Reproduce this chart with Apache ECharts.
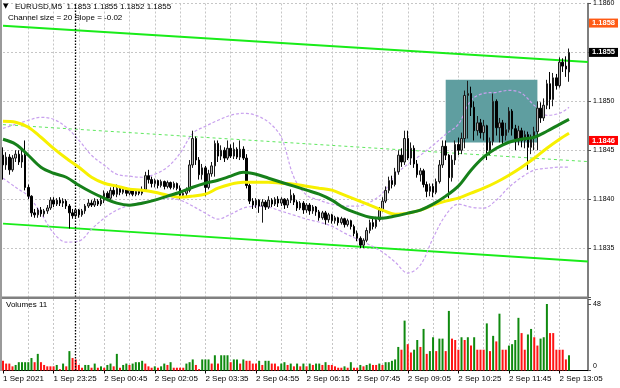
<!DOCTYPE html>
<html>
<head>
<meta charset="utf-8">
<script src="https://cdn.jsdelivr.net/npm/echarts@6/dist/echarts.min.js"></script>
<style>
html,body{margin:0;padding:0;background:#fff;}
#chart{width:620px;height:388px;}
</style>
</head>
<body>
<div id="chart"></div>
<script>
const symbolName = 'EURUSD,M5';
const channelText = 'Channel size = 20 Slope = -0.02';
const timeLabels = ['1 Sep 2021','1 Sep 23:25','2 Sep 00:45','2 Sep 02:05','2 Sep 03:35','2 Sep 04:55','2 Sep 06:15','2 Sep 07:45','2 Sep 09:05','2 Sep 10:25','2 Sep 11:45','2 Sep 13:05'];

const opens = [
1.18445,1.18435,1.18443,1.18430,1.18442,1.18446,1.18438,1.18445,1.18412,1.18403,
1.18386,1.18384,1.18389,1.18385,1.18388,1.18391,1.18399,1.18395,1.18399,1.18396,
1.18398,1.18393,1.18386,1.18383,1.18389,1.18384,1.18388,1.18393,1.18396,1.18394,
1.18398,1.18395,1.18399,1.18406,1.18401,1.18409,1.18405,1.18411,1.18407,1.18410,
1.18406,1.18409,1.18405,1.18408,1.18406,1.18410,1.18424,1.18420,1.18416,1.18419,
1.18414,1.18418,1.18413,1.18417,1.18412,1.18416,1.18411,1.18404,1.18406,1.18409,
1.18435,1.18462,1.18440,1.18425,1.18432,1.18412,1.18426,1.18434,1.18457,1.18444,
1.18450,1.18442,1.18452,1.18444,1.18451,1.18443,1.18451,1.18442,1.18414,1.18398,
1.18394,1.18399,1.18393,1.18397,1.18392,1.18399,1.18395,1.18400,1.18396,1.18400,
1.18394,1.18399,1.18404,1.18397,1.18391,1.18396,1.18389,1.18394,1.18388,1.18392,
1.18387,1.18381,1.18386,1.18379,1.18384,1.18378,1.18381,1.18376,1.18380,1.18374,
1.18378,1.18372,1.18365,1.18360,1.18353,1.18358,1.18368,1.18376,1.18372,1.18379,
1.18389,1.18398,1.18409,1.18419,1.18415,1.18428,1.18445,1.18438,1.18462,1.18442,
1.18452,1.18436,1.18425,1.18429,1.18415,1.18408,1.18413,1.18407,1.18418,1.18435,
1.18454,1.18445,1.18422,1.18440,1.18456,1.18450,1.18462,1.18506,1.18508,1.18494,
1.18470,1.18478,1.18468,1.18475,1.18450,1.18459,1.18500,1.18473,1.18478,1.18465,
1.18471,1.18490,1.18472,1.18462,1.18470,1.18460,1.18466,1.18453,1.18463,1.18469,
1.18493,1.18483,1.18496,1.18518,1.18502,1.18524,1.18516,1.18540,1.18536,1.18530];
const closes = [
1.18435,1.18443,1.18430,1.18442,1.18446,1.18438,1.18445,1.18412,1.18403,1.18386,
1.18384,1.18389,1.18385,1.18388,1.18391,1.18399,1.18395,1.18399,1.18396,1.18398,
1.18393,1.18386,1.18383,1.18389,1.18384,1.18388,1.18393,1.18396,1.18394,1.18398,
1.18395,1.18399,1.18406,1.18401,1.18409,1.18405,1.18411,1.18407,1.18410,1.18406,
1.18409,1.18405,1.18408,1.18406,1.18410,1.18424,1.18420,1.18416,1.18419,1.18414,
1.18418,1.18413,1.18417,1.18412,1.18416,1.18411,1.18404,1.18406,1.18409,1.18435,
1.18462,1.18440,1.18425,1.18432,1.18412,1.18426,1.18434,1.18457,1.18444,1.18450,
1.18442,1.18452,1.18444,1.18451,1.18443,1.18451,1.18442,1.18414,1.18398,1.18394,
1.18399,1.18393,1.18397,1.18392,1.18399,1.18395,1.18400,1.18396,1.18400,1.18394,
1.18399,1.18404,1.18397,1.18391,1.18396,1.18389,1.18394,1.18388,1.18392,1.18387,
1.18381,1.18386,1.18379,1.18384,1.18378,1.18381,1.18376,1.18380,1.18374,1.18378,
1.18372,1.18365,1.18360,1.18353,1.18358,1.18368,1.18376,1.18372,1.18379,1.18389,
1.18398,1.18409,1.18419,1.18415,1.18428,1.18445,1.18438,1.18462,1.18442,1.18452,
1.18436,1.18425,1.18429,1.18415,1.18408,1.18413,1.18407,1.18418,1.18435,1.18454,
1.18445,1.18422,1.18440,1.18456,1.18450,1.18462,1.18506,1.18508,1.18494,1.18470,
1.18478,1.18468,1.18475,1.18450,1.18459,1.18500,1.18473,1.18478,1.18465,1.18471,
1.18490,1.18472,1.18462,1.18470,1.18460,1.18466,1.18453,1.18463,1.18469,1.18493,
1.18483,1.18496,1.18518,1.18502,1.18524,1.18516,1.18540,1.18536,1.18533,1.18550];
const lows = [
1.18420,1.18430,1.18425,1.18428,1.18438,1.18435,1.18432,1.18409,1.18400,1.18382,
1.18381,1.18381,1.18382,1.18382,1.18385,1.18389,1.18392,1.18393,1.18393,1.18392,
1.18390,1.18370,1.18380,1.18381,1.18381,1.18382,1.18385,1.18391,1.18392,1.18392,
1.18393,1.18393,1.18396,1.18398,1.18399,1.18403,1.18402,1.18404,1.18405,1.18403,
1.18404,1.18403,1.18403,1.18404,1.18404,1.18408,1.18416,1.18412,1.18412,1.18411,
1.18412,1.18410,1.18411,1.18410,1.18410,1.18409,1.18400,1.18402,1.18403,1.18407,
1.18432,1.18435,1.18420,1.18420,1.18403,1.18410,1.18423,1.18423,1.18438,1.18440,
1.18438,1.18440,1.18442,1.18441,1.18441,1.18440,1.18440,1.18411,1.18395,1.18390,
1.18391,1.18386,1.18376,1.18389,1.18390,1.18392,1.18393,1.18392,1.18393,1.18390,
1.18391,1.18396,1.18394,1.18388,1.18389,1.18385,1.18386,1.18384,1.18385,1.18383,
1.18378,1.18379,1.18374,1.18376,1.18375,1.18375,1.18373,1.18374,1.18371,1.18372,
1.18369,1.18362,1.18357,1.18350,1.18350,1.18356,1.18365,1.18369,1.18370,1.18377,
1.18387,1.18396,1.18406,1.18411,1.18413,1.18425,1.18433,1.18435,1.18440,1.18435,
1.18432,1.18422,1.18418,1.18412,1.18402,1.18403,1.18402,1.18405,1.18416,1.18432,
1.18440,1.18401,1.18418,1.18435,1.18445,1.18446,1.18452,1.18462,1.18485,1.18460,
1.18465,1.18462,1.18460,1.18440,1.18445,1.18455,1.18465,1.18458,1.18455,1.18460,
1.18468,1.18465,1.18450,1.18455,1.18453,1.18452,1.18430,1.18446,1.18450,1.18450,
1.18478,1.18480,1.18492,1.18492,1.18495,1.18512,1.18514,1.18530,1.18525,1.18520];
const highs = [
1.18453,1.18448,1.18446,1.18445,1.18450,1.18450,1.18452,1.18460,1.18415,1.18404,
1.18390,1.18391,1.18392,1.18390,1.18394,1.18402,1.18402,1.18401,1.18402,1.18401,
1.18400,1.18395,1.18390,1.18391,1.18390,1.18390,1.18395,1.18400,1.18399,1.18401,
1.18400,1.18403,1.18409,1.18408,1.18412,1.18413,1.18415,1.18413,1.18413,1.18412,
1.18411,1.18411,1.18410,1.18410,1.18413,1.18428,1.18430,1.18423,1.18421,1.18420,
1.18420,1.18419,1.18419,1.18418,1.18418,1.18417,1.18414,1.18409,1.18412,1.18440,
1.18470,1.18464,1.18443,1.18436,1.18434,1.18430,1.18438,1.18460,1.18460,1.18455,
1.18453,1.18460,1.18456,1.18458,1.18453,1.18460,1.18454,1.18446,1.18416,1.18401,
1.18401,1.18400,1.18400,1.18399,1.18403,1.18401,1.18402,1.18403,1.18402,1.18401,
1.18401,1.18410,1.18406,1.18399,1.18398,1.18398,1.18396,1.18396,1.18394,1.18393,
1.18389,1.18388,1.18388,1.18386,1.18385,1.18383,1.18382,1.18382,1.18381,1.18380,
1.18379,1.18374,1.18368,1.18362,1.18360,1.18371,1.18379,1.18380,1.18382,1.18392,
1.18402,1.18413,1.18423,1.18424,1.18432,1.18450,1.18452,1.18470,1.18470,1.18458,
1.18455,1.18440,1.18432,1.18431,1.18418,1.18416,1.18416,1.18421,1.18440,1.18460,
1.18460,1.18446,1.18445,1.18460,1.18463,1.18468,1.18511,1.18521,1.18515,1.18500,
1.18485,1.18482,1.18481,1.18476,1.18463,1.18508,1.18502,1.18483,1.18481,1.18478,
1.18494,1.18492,1.18476,1.18475,1.18473,1.18470,1.18469,1.18466,1.18474,1.18500,
1.18499,1.18503,1.18522,1.18530,1.18529,1.18528,1.18545,1.18544,1.18546,1.18554];

const volumes = [
7,5,5,3,4,6,6,6,6,9, 6,12,6,4,3,3,3,4,1,5, 3,14,9,8,4,2,4,4,2,5,
2,3,2,4,5,3,12,2,4,5, 4,5,6,6,7,5,3,2,3,2, 3,5,4,6,2,2,2,2,5,6,
8,4,1,8,8,8,5,11,5,11, 11,11,6,8,8,5,8,7,7,5, 5,7,4,7,7,5,5,3,5,6,
4,5,3,5,3,5,3,5,4,5, 5,4,6,4,4,3,2,2,3,2, 6,2,2,4,3,4,5,4,4,5,
4,6,6,7,8,17,15,36,19,13, 15,22,17,30,12,14,24,14,23,23, 14,43,23,22,15,24,22,24,18,24,
15,15,15,34,14,25,21,41,15,15, 18,19,22,38,27,15,26,30,24,18, 23,24,48,27,27,15,15,15,8,11];

const lineBars = [0,4,8,12,16,20,24,28,32,36,40,44,48,52,56,60,64,68,72,76,80,84,88,92,96,100,104,108,112,116,120,124,128,132,136,140,144,148,152,156,160,164,168,172,176,179];
const maGreen = [1.184612,1.184561,1.184449,1.184327,1.184265,1.184224,1.184143,1.184071,1.184010,1.183959,1.183939,1.183959,1.183990,1.184031,1.184071,1.184122,1.184163,1.184194,1.184235,1.184276,1.184255,1.184214,1.184173,1.184133,1.184092,1.184051,1.183990,1.183908,1.183857,1.183816,1.183806,1.183827,1.183857,1.183888,1.183949,1.184031,1.184133,1.184296,1.184429,1.184520,1.184582,1.184612,1.184633,1.184694,1.184765,1.184816];
const maYellow = [1.184796,1.184786,1.184735,1.184633,1.184520,1.184418,1.184327,1.184224,1.184163,1.184133,1.184102,1.184092,1.184071,1.184041,1.184020,1.184031,1.184051,1.184112,1.184153,1.184173,1.184173,1.184173,1.184163,1.184153,1.184133,1.184112,1.184092,1.184041,1.183990,1.183939,1.183888,1.183847,1.183857,1.183888,1.183939,1.183980,1.184010,1.184061,1.184112,1.184173,1.184245,1.184327,1.184418,1.184520,1.184612,1.184673];
const bandUpper = [1.184724,1.184765,1.184806,1.184837,1.184816,1.184735,1.184602,1.184449,1.184347,1.184255,1.184235,1.184224,1.184255,1.184327,1.184469,1.184673,1.184745,1.184806,1.184857,1.184878,1.184857,1.184786,1.184633,1.184224,1.184041,1.183990,1.183949,1.183929,1.183929,1.183969,1.184061,1.184245,1.184357,1.184449,1.184551,1.184663,1.184765,1.185010,1.185082,1.185092,1.185112,1.185082,1.184959,1.184857,1.184878,1.184939];
const bandLower = [1.184214,1.184122,1.184031,1.183857,1.183653,1.183561,1.183571,1.183694,1.183806,1.183888,1.183939,1.183969,1.183990,1.184010,1.183990,1.183929,1.183857,1.183796,1.183847,1.183908,1.183929,1.183918,1.183878,1.183837,1.183796,1.183765,1.183724,1.183653,1.183592,1.183531,1.183459,1.183357,1.183245,1.183327,1.183602,1.183837,1.183949,1.183918,1.183908,1.183990,1.184122,1.184224,1.184296,1.184316,1.184327,1.184327];

const channelBars = [0,185];
const channelUpper = [1.185773,1.185403];
const channelMid = [1.184762,1.184384];
const channelLower = [1.183750,1.183364];

const levelOrange = 1.1858;
const levelRed = 1.1846;
const boxBars = [140,169];
const boxPrices = [1.18522,1.18458];
const daySeparatorBar = 23;

const FONT = '"Liberation Sans", Arial, sans-serif';
const N = 186;
const cats = Array.from({length:N},(_,i)=>String(i));
const GREEN = '#0f8a0f', RED = '#ff1414';

const volColors = [];
volumes.forEach((v,i)=>{
  if(i===0) volColors.push(RED);
  else if(v>volumes[i-1]) volColors.push(GREEN);
  else if(v<volumes[i-1]) volColors.push(RED);
  else volColors.push(volColors[i-1]);
});
const pairs = (xs,ys)=>ys.map((v,k)=>[xs[k],v]);
const last = closes.length-1;
const header = symbolName+'  '+opens[last].toFixed(4)+' '+highs[last].toFixed(4)+' '+lows[last].toFixed(4)+' '+closes[last].toFixed(4);

const gridSplitX = {show:true, interval:(i)=> i%8===0 && i>0 && i<184, lineStyle:{color:'#c6c6c6', type:[2,2], width:1}};

const tag = (price, bg)=>({coord:[N-1, price], value:price, symbol:'rect', symbolSize:[29,9], symbolOffset:[15.5,0],
  itemStyle:{color:bg}, label:{show:true, position:'inside', formatter:(p)=>Number(p.value).toFixed(4),
  color:'#fff', fontSize:7.5, fontFamily:FONT, fontWeight:'bold'}});

const option = {
  animation:false,
  backgroundColor:'#fff',
  grid:[
    {left:3, right:32, top:3, height:294},
    {left:3, right:32, top:299, height:71.5}
  ],
  xAxis:[
    {type:'category', gridIndex:0, data:cats, boundaryGap:false,
     axisLine:{show:false}, axisTick:{show:false}, axisLabel:{show:false}, splitLine:gridSplitX},
    {type:'category', gridIndex:1, data:cats, boundaryGap:false,
     axisLine:{show:true, lineStyle:{color:'#000', width:1}},
     axisTick:{show:true, interval:(i)=> i%16===0 && i<=176, length:3, lineStyle:{color:'#000'}},
     axisLabel:{show:true, interval:(i)=> i%16===0 && i<=176, formatter:(v,i)=> timeLabels[Math.round(Number(v)/16)] || '',
       align:'left', margin:4, fontSize:8, color:'#000', fontFamily:FONT},
     splitLine:gridSplitX}
  ],
  yAxis:[
    {type:'value', gridIndex:0, position:'right', min:1.1830, max:1.1860, interval:0.0005,
     axisLine:{show:true, lineStyle:{color:'#555', width:1.5}},
     axisTick:{show:true, length:3, lineStyle:{color:'#555'}},
     axisLabel:{fontSize:7, color:'#000', margin:5, fontFamily:FONT,
       formatter:(v)=> (Math.abs(v-1.1830)<1e-7)?'':v.toFixed(4)},
     splitLine:{show:true, lineStyle:{color:'#c6c6c6', type:[2,2], width:1}}},
    {type:'value', gridIndex:1, position:'right', min:0, max:51.6, interval:48,
     axisLine:{show:true, lineStyle:{color:'#555', width:1.5}},
     axisTick:{show:true, length:3, lineStyle:{color:'#555'}},
     axisLabel:{fontSize:7, color:'#000', margin:5, fontFamily:FONT,
       formatter:(v)=> v===0?'{z|0}':(v===48?'48':''), rich:{z:{fontSize:7, fontFamily:FONT, padding:[0,0,8,0]}}},
     splitLine:{show:false}}
  ],
  series:[
    {type:'line', xAxisIndex:0, yAxisIndex:0, data:[], z:1, silent:true,
     markArea:{silent:true, itemStyle:{color:'#5f9ea0', opacity:1},
       data:[[{xAxis:boxBars[0], yAxis:boxPrices[0]},{xAxis:boxBars[1], yAxis:boxPrices[1]}]]}},
    {type:'line', xAxisIndex:0, yAxisIndex:0, data:pairs(channelBars,channelUpper), symbol:'none', z:2,
     lineStyle:{color:'#19ec19', width:2}},
    {type:'line', xAxisIndex:0, yAxisIndex:0, data:pairs(channelBars,channelLower), symbol:'none', z:2,
     lineStyle:{color:'#19ec19', width:2}},
    {type:'line', xAxisIndex:0, yAxisIndex:0, data:pairs(channelBars,channelMid), symbol:'none', z:2,
     lineStyle:{color:'#5fe85f', width:1, type:[3,3]}},
    {type:'line', xAxisIndex:0, yAxisIndex:0, data:pairs(lineBars,bandUpper), symbol:'none', smooth:0.35, z:3,
     lineStyle:{color:'#c8a0ee', width:1.2, type:[3,2]}},
    {type:'line', xAxisIndex:0, yAxisIndex:0, data:pairs(lineBars,bandLower), symbol:'none', smooth:0.35, z:3,
     lineStyle:{color:'#c8a0ee', width:1.2, type:[3,2]}},
    {type:'candlestick', xAxisIndex:0, yAxisIndex:0, z:4, barWidth:2,
     data:opens.map((o,i)=>[o, closes[i], lows[i], highs[i]]),
     itemStyle:{color:'#b4b4b4', color0:'#000', borderColor:'#1a1a1a', borderColor0:'#000', borderWidth:1}},
    {type:'line', xAxisIndex:0, yAxisIndex:0, data:pairs(lineBars,maYellow), symbol:'none', smooth:0.35, z:5,
     lineStyle:{color:'#f7f000', width:3}},
    {type:'line', xAxisIndex:0, yAxisIndex:0, data:pairs(lineBars,maGreen), symbol:'none', smooth:0.35, z:6,
     lineStyle:{color:'#16801a', width:3}},
    {type:'line', xAxisIndex:0, yAxisIndex:0, data:pairs(channelBars,channelUpper), symbol:'none', z:7,
     lineStyle:{opacity:0}, silent:true,
     markLine:{silent:true, symbol:['none','none'], animation:false, label:{show:false},
       data:[
         {yAxis:closes[last], lineStyle:{color:'#c8c8c8', width:2, type:'solid'}},
         {yAxis:levelOrange, lineStyle:{color:'#ff6a1e', width:1.5, type:'solid'}},
         {yAxis:levelRed, lineStyle:{color:'#ff0000', width:1.8, type:'solid'}},
         {xAxis:daySeparatorBar, lineStyle:{color:'#000', width:1.3, type:[1.5,1.5]}}
       ]},
     markPoint:{silent:true, animation:false,
       data:[tag(closes[last],'#000'), tag(levelOrange,'#ff5a14'), tag(levelRed,'#ff0000')]}},
    {type:'bar', xAxisIndex:1, yAxisIndex:1, barWidth:2, z:4,
     data:volumes.map((v,i)=>({value:v, itemStyle:{color:volColors[i]}})),
     markLine:{silent:true, symbol:['none','none'], animation:false, label:{show:false},
       data:[{xAxis:daySeparatorBar, lineStyle:{color:'#000', width:1.3, type:[1.5,1.5]}}]}}
  ],
  graphic:[
    {type:'rect', shape:{x:0, y:296.5, width:588, height:2.5}, style:{fill:'#808080'}, z:10},
    {type:'line', shape:{x1:1, y1:0, x2:1, y2:371}, style:{stroke:'#9a9a9a', lineWidth:2}, z:10},
    {type:'text', left:3, top:3, style:{text:'▼', fontSize:7, fill:'#000', fontFamily:'DejaVu Sans'}, z:10},
    {type:'text', left:15, top:3, style:{text:header, fontSize:8, fill:'#000', fontFamily:FONT}, z:10},
    {type:'text', left:8, top:14, style:{text:channelText, fontSize:8, fill:'#000', fontFamily:FONT}, z:10},
    {type:'text', left:6, top:301, style:{text:'Volumes '+volumes[last], fontSize:8, fill:'#000', fontFamily:FONT}, z:10}
  ]
};
const chart = echarts.init(document.getElementById('chart'));
chart.setOption(option);
</script>
</body>
</html>
